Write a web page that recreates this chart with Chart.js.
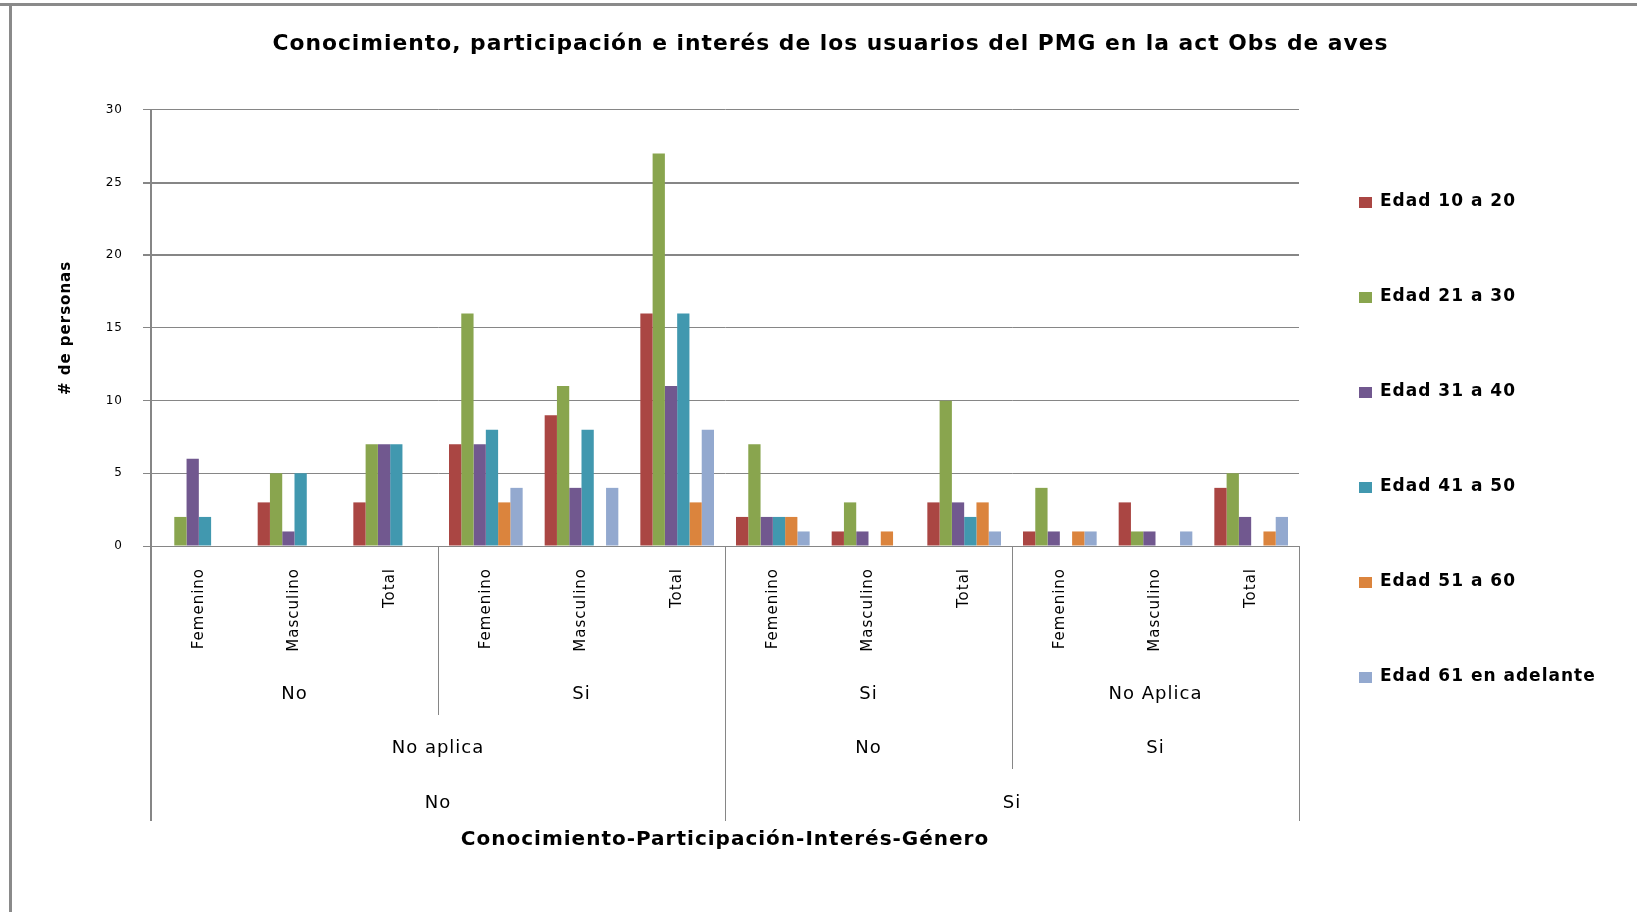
<!DOCTYPE html>
<html>
<head>
<meta charset="utf-8">
<script src="https://cdn.jsdelivr.net/npm/chart.js@4.4.1/dist/chart.umd.min.js"></script>
<style>
  html, body { margin: 0; padding: 0; background: #ffffff; overflow: hidden; }
  canvas { display: block; }
</style>
</head>
<body>
<canvas id="c" width="1637" height="912"></canvas>
<script>
// ---- Data ----
const categories = ['Femenino', 'Masculino', 'Total', 'Femenino', 'Masculino', 'Total',
                    'Femenino', 'Masculino', 'Total', 'Femenino', 'Masculino', 'Total'];
const level2Labels = ['No', 'Si', 'Si', 'No Aplica'];
const level2Spans = [3, 3, 3, 3];
const level3Labels = ['No aplica', 'No', 'Si'];
const level3Spans = [6, 3, 3];
const level4Labels = ['No', 'Si'];
const level4Spans = [6, 6];

const seriesNames = ['Edad 10 a 20', 'Edad 21 a 30', 'Edad 31 a 40', 'Edad 41 a 50', 'Edad 51 a 60', 'Edad 61 en adelante'];
const edad10a20 = [0, 3, 3, 7, 9, 16, 2, 1, 3, 1, 3, 4];
const edad21a30 = [2, 5, 7, 16, 11, 27, 7, 3, 10, 4, 1, 5];
const edad31a40 = [6, 1, 7, 7, 4, 11, 2, 1, 3, 1, 1, 2];
const edad41a50 = [2, 5, 7, 8, 8, 16, 2, 0, 2, 0, 0, 0];
const edad51a60 = [0, 0, 0, 3, 0, 3, 2, 1, 3, 1, 0, 1];
const edad61mas = [0, 0, 0, 4, 4, 8, 1, 0, 1, 1, 1, 2];
const seriesValues = [edad10a20, edad21a30, edad31a40, edad41a50, edad51a60, edad61mas];
const seriesColors = ['#AA4643', '#89A54E', '#71588F', '#4198AF', '#DB843D', '#93A9CF'];

const yTicksMin = 0, yTicksMax = 30, yTickStep = 5;

// ---- Styling / layout ----
const GRID = '#868686';
const FONT = 'DejaVu Sans';

const groupRows = [
  { labels: level2Labels, spans: level2Spans, y: 694, bottom: 715 },
  { labels: level3Labels, spans: level3Spans, y: 748.5, bottom: 769 },
  { labels: level4Labels, spans: level4Spans, y: 803, bottom: 821 }
];

const spacingPlugin = {
  id: 'spacing',
  beforeDraw(chart) {
    const ctx = chart.ctx;
    ctx.save();
    ctx.fillStyle = '#8a8a8a';
    ctx.fillRect(0, 3, chart.width, 3);
    ctx.fillRect(9, 3, 3, chart.height);
    ctx.restore();
    ctx.letterSpacing = '1px';
  }
};

const groupAxisPlugin = {
  id: 'groupAxis',
  afterDraw(chart) {
    const ctx = chart.ctx;
    const x = chart.scales.x;
    const area = chart.chartArea;
    const n = categories.length;
    const w = (x.right - x.left) / n;
    ctx.save();
    ctx.letterSpacing = '1px';
    // separators
    const depth = new Array(n + 1).fill(-1);
    groupRows.forEach((row, ri) => {
      let k = 0;
      depth[0] = ri;
      row.spans.forEach(s => { k += s; depth[k] = ri; });
    });
    ctx.strokeStyle = GRID;
    for (let k = 0; k <= n; k++) {
      if (depth[k] < 0) continue;
      const px = Math.round(x.left + k * w) + 0.5;
      ctx.lineWidth = (k === 0) ? 2 : 1;
      ctx.beginPath();
      ctx.moveTo(k === 0 ? px - 0.5 : px, area.bottom);
      ctx.lineTo(k === 0 ? px - 0.5 : px, groupRows[depth[k]].bottom);
      ctx.stroke();
    }
    // labels
    ctx.fillStyle = '#000';
    ctx.font = '18px "' + FONT + '"';
    ctx.textAlign = 'center';
    ctx.textBaseline = 'middle';
    groupRows.forEach(row => {
      let k = 0;
      row.labels.forEach((lab, i) => {
        const cx = x.left + (k + row.spans[i] / 2) * w;
        ctx.fillText(lab, cx, row.y);
        k += row.spans[i];
      });
    });
    // legend
    ctx.font = 'bold 17px "' + FONT + '"';
    ctx.textAlign = 'left';
    chart.data.datasets.forEach((ds, i) => {
      const cy = 202 + i * 95;
      ctx.fillStyle = ds.backgroundColor;
      ctx.fillRect(1359, cy - 5, 13, 11);
      ctx.fillStyle = '#000';
      ctx.fillText(ds.label, 1380, cy);
    });
    ctx.restore();
  }
};

const datasets = seriesNames.map((name, i) => ({
  label: name,
  data: seriesValues[i],
  backgroundColor: seriesColors[i],
  borderWidth: 0,
  categoryPercentage: 0.77,
  barPercentage: 1.0
}));

new Chart(document.getElementById('c'), {
  type: 'bar',
  data: { labels: categories, datasets: datasets },
  plugins: [spacingPlugin, groupAxisPlugin],
  options: {
    responsive: false,
    devicePixelRatio: 1,
    animation: false,
    layout: { padding: { left: 24, right: 0, top: 0, bottom: 0 } },
    plugins: {
      legend: { display: false },
      tooltip: { enabled: false },
      title: {
        display: true,
        text: 'Conocimiento, participación e interés de los usuarios del PMG en la act Obs de aves',
        color: '#000',
        font: { family: FONT, size: 21.8, weight: 'bold', lineHeight: 1.2 },
        padding: { top: 31, bottom: 52.8 }
      }
    },
    scales: {
      x: {
        grid: { display: false, drawTicks: false },
        border: { display: true, color: GRID, width: 1 },
        ticks: {
          color: '#000',
          font: { family: FONT, size: 15 },
          minRotation: 90, maxRotation: 90,
          autoSkip: false,
          padding: 22
        },
        title: {
          display: true,
          text: 'Conocimiento-Participación-Interés-Género',
          color: '#000',
          font: { family: FONT, size: 20, weight: 'bold', lineHeight: 1.2 },
          padding: { top: 0, bottom: 60 }
        },
        afterFit(s) { s.height = 366; }
      },
      y: {
        min: yTicksMin, max: yTicksMax,
        ticks: { stepSize: yTickStep, color: '#000', font: { family: FONT, size: 12 }, padding: 20 },
        grid: {
          color: GRID,
          lineWidth: (c) => (c.tick && (c.tick.value === 20 || c.tick.value === 25)) ? 2 : 1,
          tickLength: 8,
          drawTicks: true
        },
        border: { display: true, color: GRID, width: 2 },
        title: {
          display: true,
          text: '# de personas',
          color: '#000',
          font: { family: FONT, size: 15, weight: 'bold', lineHeight: 1.2 },
          padding: { top: 33, bottom: 0 }
        },
        afterFit(s) { s.width = 127; }
      },
      yPad: {
        type: 'linear',
        position: 'right',
        display: true,
        grid: { display: false, drawTicks: false },
        border: { display: false },
        ticks: { display: false },
        afterFit(s) { s.width = 338; }
      }
    }
  }
});
</script>
</body>
</html>
